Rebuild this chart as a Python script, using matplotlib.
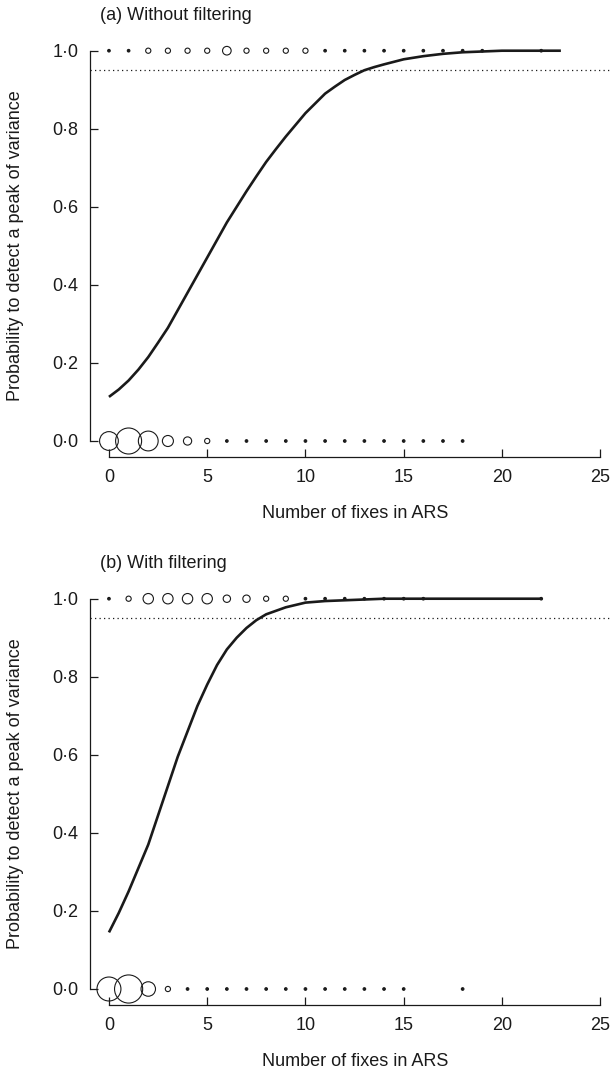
import numpy as np
import matplotlib
matplotlib.use("Agg")
import matplotlib.pyplot as plt

plt.rcParams['font.family'] = ['Liberation Sans', 'DejaVu Sans']

# ---------------- data ----------------
# fitted probability curves
curve_a_x = [0, 0.5, 1, 1.5, 2, 2.5, 3, 3.5, 4, 4.5, 5, 5.5, 6, 6.5, 7, 7.5, 8, 8.5, 9, 9.5,
             10, 10.5, 11, 11.5, 12, 12.5, 13, 13.5, 14, 15, 16, 17, 18, 19, 20, 21, 22, 23]
curve_a_y = [0.113, 0.132, 0.155, 0.183, 0.215, 0.252, 0.29, 0.335, 0.38, 0.425, 0.47, 0.515,
             0.56, 0.60, 0.64, 0.678, 0.715, 0.748, 0.78, 0.81, 0.84, 0.865, 0.89, 0.908,
             0.925, 0.938, 0.95, 0.958, 0.965, 0.978, 0.986, 0.992, 0.996, 0.998, 1.0, 1.0, 1.0, 1.0]

curve_b_x = [0, 0.5, 1, 1.5, 2, 2.5, 3, 3.5, 4, 4.5, 5, 5.5, 6, 6.5, 7, 7.5, 8, 9, 10, 11,
             12, 13, 14, 16, 18, 20, 22]
curve_b_y = [0.145, 0.195, 0.25, 0.31, 0.37, 0.445, 0.52, 0.595, 0.66, 0.725, 0.78, 0.83,
             0.87, 0.90, 0.925, 0.945, 0.96, 0.978, 0.99, 0.994, 0.996, 0.998, 1.0, 1.0, 1.0, 1.0, 1.0]

# observed outcomes: counts of runs at each number of fixes (bubble size)
a_top_x = [0, 1, 2, 3, 4, 5, 6, 7, 8, 9, 10, 11, 12, 13, 14, 15, 16, 17, 18, 19, 22]
a_top_n = [1, 1, 4, 4, 4, 4, 11, 4, 4, 4, 4, 1, 1, 1, 1, 1, 1, 1, 1, 1, 1]
a_bot_x = [0, 1, 2, 3, 4, 5, 6, 7, 8, 9, 10, 11, 12, 13, 14, 15, 16, 17, 18]
a_bot_n = [52, 100, 58, 18, 10, 4, 1, 1, 1, 1, 1, 1, 1, 1, 1, 1, 1, 1, 1]

b_top_x = [0, 1, 2, 3, 4, 5, 6, 7, 8, 9, 10, 11, 12, 13, 14, 15, 16, 22]
b_top_n = [1, 4, 16, 16, 16, 16, 8, 8, 4, 4, 1, 1, 1, 1, 1, 1, 1, 1]
b_bot_x = [0, 1, 2, 3, 4, 5, 6, 7, 8, 9, 10, 11, 12, 13, 14, 15, 18]
b_bot_n = [85, 117, 31, 4, 1, 1, 1, 1, 1, 1, 1, 1, 1, 1, 1, 1, 1]

threshold = 0.95
yticks = [0.0, 0.2, 0.4, 0.6, 0.8, 1.0]
ytick_labels = ['0·0', '0·2', '0·4', '0·6', '0·8', '1·0']
xticks = [0, 5, 10, 15, 20, 25]
titles = ['(a) Without filtering', '(b) With filtering']
xlabel = 'Number of fixes in ARS'
ylabel = 'Probability to detect a peak of variance'

# ---------------- figure ----------------
W, H = 613, 1072
fig = plt.figure(figsize=(W / 100, H / 100), dpi=100)
ink = '#1a1a1a'
FS = 13

def px_to_frac(x, y):
    return x / W, 1 - y / H

def size_from_count(n):
    d_px = 2.6 * np.sqrt(np.asarray(n, dtype=float))
    return (d_px / 1.389) ** 2

panels = [
    dict(curve=(curve_a_x, curve_a_y), top=(a_top_x, a_top_n), bot=(a_bot_x, a_bot_n), off=0),
    dict(curve=(curve_b_x, curve_b_y), top=(b_top_x, b_top_n), bot=(b_bot_x, b_bot_n), off=548),
]

for i, p in enumerate(panels):
    off = p['off']
    left_px, right_px = 89.7, 610.0
    top_px, bot_px = 39 + off, 457 + off
    ax = fig.add_axes([left_px / W, 1 - bot_px / H, (right_px - left_px) / W, (bot_px - top_px) / H])
    ax.set_xlim(-0.98, 25.5)
    ax.set_ylim(-0.041, 1.03)

    ax.axhline(threshold, color=ink, lw=0.9, ls=(0, (1.0, 2.6)), xmin=0, xmax=1)
    ax.plot(p['curve'][0], p['curve'][1], color=ink, lw=1.9, solid_capstyle='butt', zorder=3)

    for (xs, ns), yv in ((p['top'], 1.0), (p['bot'], 0.0)):
        ns = np.asarray(ns)
        fc = ['#1a1a1a' if n == 1 else 'none' for n in ns]
        ax.scatter(xs, [yv] * len(xs), s=size_from_count(ns), facecolors=fc,
                   edgecolors=ink, linewidths=0.8, clip_on=False, zorder=4)

    for side in ('top', 'right'):
        ax.spines[side].set_visible(False)
    ax.spines['left'].set_bounds(0, 1)
    ax.spines['bottom'].set_bounds(0, 25)
    for side in ('left', 'bottom'):
        ax.spines[side].set_linewidth(0.9)
        ax.spines[side].set_color(ink)

    ax.set_yticks(yticks)
    ax.set_yticklabels(ytick_labels)
    ax.set_xticks(xticks)
    ax.tick_params(axis='both', direction='in', length=5.8, width=0.9, color=ink,
                   labelsize=FS, labelcolor=ink)
    ax.tick_params(axis='y', pad=8)
    ax.tick_params(axis='x', pad=8.5)

    fx, fy = px_to_frac(100, 16 + off)
    fig.text(fx, fy, titles[i], fontsize=FS, color=ink, ha='left', va='center')
    fx, fy = px_to_frac(355, 513 + off)
    fig.text(fx, fy, xlabel, fontsize=FS, color=ink, ha='center', va='center')
    fx, fy = px_to_frac(16, 246 + off)
    fig.text(fx, fy, ylabel, fontsize=FS, color=ink, ha='center', va='center', rotation=90)

fig.savefig('out.png', dpi=100)
